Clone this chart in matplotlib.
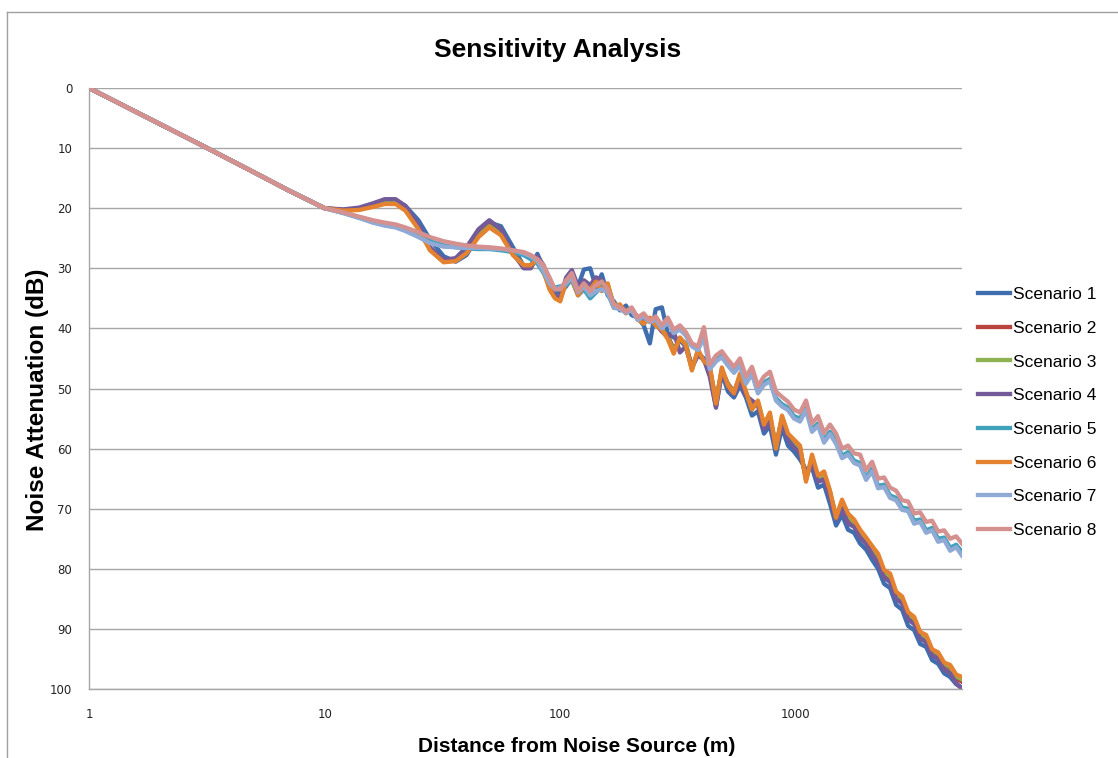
import matplotlib
matplotlib.use('Agg')
import matplotlib.pyplot as plt
from matplotlib.lines import Line2D
from matplotlib.ticker import FixedLocator, NullLocator, FuncFormatter

# - Distances (m), near field then far field
d_near = [1, 2, 3, 5, 7, 10, 12, 14, 16, 18, 20, 22, 25, 28, 32, 36, 40, 45, 50,
          56, 63, 70, 75, 80, 85, 90, 95]
d_far = [100, 106, 112, 119, 126, 134, 142, 150, 159, 169, 179, 190, 201, 213, 226,
         240, 254, 270, 286, 303, 322, 341, 362, 384, 407, 431, 458, 485, 515, 546,
         579, 614, 651, 690, 732, 776, 823, 873, 926, 982, 1041, 1104, 1171, 1242,
         1317, 1396, 1481, 1570, 1665, 1766, 1873, 1986, 2106, 2233, 2368, 2511,
         2663, 2824, 2995, 3176, 3368, 3571, 3787, 4016, 4259, 4516, 4789, 5070]
distance = d_near + d_far

# - Noise attenuation (dB) per scenario
scenario_1 = [0, 6.0, 9.5, 14.0, 17.0, 20.0, 20.3, 20.1, 19.5, 18.9, 18.8, 19.6, 22.0, 25.2,
              28.0, 28.9, 27.8, 24.5, 22.4, 23.0, 26.5, 29.6, 29.5, 27.6, 30.0, 32.6, 34.0,
              34.0, 33.0, 31.5, 33.0, 30.2, 30.0, 33.2, 31.0, 34.5, 35.5,
              37.0, 36.2, 37.8, 38.2, 39.5, 42.5, 36.8, 36.5, 40.8, 41.5,
              42.0, 43.0, 46.5, 44.2, 45.0, 47.2, 53.0, 47.5, 50.5, 51.5,
              49.5, 51.5, 54.5, 53.8, 57.5, 56.2, 61.0, 56.5, 59.5, 60.5,
              61.8, 63.5, 63.2, 66.5, 66.0, 69.2, 72.8, 71.0, 73.5, 74.0,
              75.8, 76.8, 78.5, 80.0, 82.5, 83.2, 86.0, 86.8, 89.5, 90.2,
              92.5, 93.0, 95.2, 95.8, 97.4, 98.0, 99.2, 99.8]
scenario_2 = [0, 6.0, 9.5, 14.0, 17.0, 20.0, 20.4, 20.2, 19.6, 19.0, 19.0, 20.1, 23.2, 26.8,
              28.8, 28.6, 27.2, 24.4, 22.8, 24.2, 27.6, 29.6, 29.6, 28.4, 30.2, 33.2, 34.8,
              35.0, 32.2, 31.2, 34.0, 33.2, 33.0, 32.5, 33.2, 33.0, 36.2,
              36.4, 37.0, 37.2, 38.0, 39.0, 38.5, 39.2, 40.5, 41.2, 43.5,
              41.8, 42.5, 46.5, 44.0, 45.2, 46.8, 52.0, 47.0, 49.2, 50.5,
              48.2, 50.8, 53.2, 52.5, 56.2, 54.8, 59.5, 55.0, 58.0, 59.0,
              60.0, 65.0, 61.8, 65.0, 64.5, 67.5, 71.2, 69.0, 71.5, 72.5,
              74.0, 75.2, 76.8, 78.2, 80.8, 81.5, 84.4, 85.2, 87.8, 88.6,
              91.0, 91.6, 93.8, 94.4, 96.0, 96.6, 98.2, 98.8]
scenario_3 = [0, 6.0, 9.5, 14.0, 17.0, 20.0, 20.4, 20.2, 19.7, 19.1, 19.1, 20.2, 23.3, 26.9,
              28.9, 28.7, 27.3, 24.6, 23.0, 24.3, 27.7, 29.5, 29.5, 28.5, 30.3, 33.3, 34.9,
              35.2, 32.4, 31.0, 34.2, 33.0, 33.2, 32.0, 33.5, 32.8, 36.0,
              36.2, 37.2, 37.0, 38.2, 39.2, 38.4, 39.4, 40.2, 41.5, 43.8,
              41.6, 42.6, 46.8, 43.8, 45.4, 46.5, 52.2, 46.8, 49.4, 50.6,
              48.0, 50.6, 53.4, 52.2, 56.0, 54.5, 59.8, 54.8, 57.8, 58.8,
              59.8, 65.2, 61.4, 64.8, 64.2, 67.2, 71.4, 68.8, 71.2, 72.2,
              73.8, 75.0, 76.5, 77.9, 80.5, 81.2, 84.1, 84.9, 87.5, 88.3,
              90.8, 91.3, 93.6, 94.1, 95.8, 96.3, 97.9, 98.4]
scenario_4 = [0, 6.0, 9.5, 14.0, 17.0, 20.0, 20.2, 19.9, 19.2, 18.5, 18.5, 19.6, 22.8, 26.5,
              28.6, 28.3, 26.5, 23.5, 22.0, 23.5, 27.5, 30.0, 30.0, 28.0, 29.5, 32.5, 34.5,
              34.8, 31.5, 30.3, 33.0, 32.0, 32.8, 31.5, 32.0, 33.5, 36.0,
              36.5, 37.2, 37.0, 38.2, 39.0, 38.5, 39.0, 40.5, 41.5, 40.5,
              44.0, 43.0, 46.5, 44.5, 45.2, 48.0, 53.2, 47.0, 49.8, 51.0,
              48.8, 51.2, 52.0, 52.8, 56.8, 55.5, 59.8, 55.8, 58.5, 59.8,
              60.8, 64.5, 62.5, 65.5, 65.2, 68.2, 71.8, 70.0, 72.5, 73.0,
              74.8, 75.8, 77.6, 79.0, 81.5, 82.2, 85.0, 85.8, 88.4, 89.2,
              91.6, 92.2, 94.4, 95.0, 96.8, 97.4, 99.0, 100.0]
scenario_5 = [0, 6.0, 9.5, 14.0, 17.0, 20.0, 20.8, 21.6, 22.3, 22.8, 23.1, 23.6, 24.5, 25.5,
              26.2, 26.5, 26.7, 26.8, 26.8, 27.0, 27.3, 27.8, 28.5, 29.2, 30.8, 32.8, 33.2,
              33.0, 32.8, 32.0, 34.5, 33.5, 35.0, 34.0, 33.0, 34.2, 36.6,
              36.6, 37.2, 36.8, 38.4, 37.8, 38.8, 38.3, 39.8, 38.8, 40.6,
              40.0, 41.0, 42.8, 43.4, 41.0, 46.5, 45.2, 44.5, 45.8, 47.0,
              45.8, 48.8, 47.2, 50.4, 49.0, 48.4, 51.6, 52.6, 53.2, 54.6,
              55.0, 53.2, 56.8, 55.8, 58.6, 57.2, 58.8, 61.2, 60.6, 62.0,
              62.4, 64.8, 63.4, 66.2, 66.0, 67.8, 68.2, 69.8, 70.0, 72.0,
              71.8, 73.6, 73.2, 75.0, 74.8, 76.5, 76.0, 77.2]
scenario_6 = [0, 6.0, 9.5, 14.0, 17.0, 20.0, 20.4, 20.3, 19.8, 19.3, 19.3, 20.4, 23.5, 27.0,
              29.0, 28.8, 27.5, 24.8, 23.2, 24.5, 27.8, 29.5, 29.5, 28.5, 30.5, 33.5, 35.0,
              35.5, 32.0, 31.8, 34.5, 33.0, 33.5, 32.2, 33.8, 32.5, 36.5,
              36.0, 37.5, 36.8, 38.5, 39.2, 38.2, 39.5, 40.2, 41.8, 44.2,
              41.5, 42.8, 47.0, 43.5, 45.5, 46.2, 52.5, 46.5, 49.5, 50.8,
              47.5, 50.5, 53.5, 52.0, 56.0, 54.0, 60.0, 54.5, 57.5, 58.5,
              59.5, 65.5, 61.0, 64.5, 63.8, 67.0, 71.5, 68.5, 70.8, 71.8,
              73.5, 74.8, 76.2, 77.5, 80.2, 80.8, 83.8, 84.6, 87.2, 88.0,
              90.5, 91.0, 93.4, 93.9, 95.6, 96.0, 97.6, 98.0]
scenario_7 = [0, 6.0, 9.5, 14.0, 17.0, 20.0, 20.8, 21.6, 22.4, 22.9, 23.2, 23.8, 24.8, 25.8,
              26.4, 26.5, 26.6, 26.6, 26.7, 26.8, 27.0, 27.5, 28.0, 28.8, 30.5, 32.5, 33.5,
              33.2, 32.5, 31.5, 34.0, 33.0, 34.5, 33.8, 33.5, 34.0, 36.5,
              36.8, 37.4, 37.0, 38.6, 38.0, 39.0, 38.5, 40.0, 39.0, 40.8,
              40.2, 41.2, 43.0, 43.6, 41.5, 46.8, 45.5, 44.8, 46.2, 47.4,
              46.2, 49.2, 47.6, 50.8, 49.4, 48.8, 52.0, 53.0, 53.6, 55.0,
              55.5, 53.6, 57.2, 56.2, 59.0, 57.6, 59.2, 61.6, 61.0, 62.4,
              62.8, 65.2, 63.8, 66.6, 66.4, 68.2, 68.6, 70.2, 70.4, 72.5,
              72.2, 74.0, 73.6, 75.5, 75.2, 77.0, 76.4, 77.8]
scenario_8 = [0, 6.0, 9.5, 14.0, 17.0, 20.0, 20.7, 21.4, 22.0, 22.4, 22.7, 23.2, 24.0, 24.8,
              25.5, 25.9, 26.2, 26.4, 26.5, 26.7, 27.0, 27.3, 27.8, 28.5, 29.5, 31.5, 33.5,
              33.5, 32.0, 30.8, 33.8, 32.5, 33.8, 32.8, 32.2, 33.5, 36.0,
              36.5, 37.2, 36.5, 38.2, 37.5, 38.8, 38.0, 39.5, 38.2, 40.2,
              39.5, 40.6, 42.5, 43.0, 39.8, 46.0, 44.5, 43.8, 45.2, 46.4,
              45.0, 48.0, 46.4, 49.6, 48.0, 47.2, 50.5, 51.4, 52.2, 53.5,
              54.0, 52.0, 55.8, 54.6, 57.4, 56.0, 57.5, 60.0, 59.5, 60.8,
              61.0, 63.6, 62.2, 65.0, 64.8, 66.5, 67.0, 68.6, 68.8, 70.8,
              70.6, 72.2, 72.0, 73.8, 73.6, 75.0, 74.6, 75.8]

series = [scenario_1, scenario_2, scenario_3, scenario_4,
          scenario_5, scenario_6, scenario_7, scenario_8]
labels = ['Scenario 1', 'Scenario 2', 'Scenario 3', 'Scenario 4',
          'Scenario 5', 'Scenario 6', 'Scenario 7', 'Scenario 8']
colors = ['#3F6EAE', '#B9433F', '#8FB14F', '#735A99',
          '#40A1BB', '#E4822F', '#8FAAD5', '#D4918F']

plt.rcParams['font.family'] = ['Liberation Sans', 'DejaVu Sans']

# - Figure and axes placed like the original plot area
fig = plt.figure(figsize=(11.18, 7.58), dpi=100)
ax = fig.add_axes([89 / 1118, 1 - 689 / 758, (962 - 89) / 1118, (689 - 88) / 758])

for vals, lab, col in zip(series, labels, colors):
    ax.plot(distance, vals, color=col, lw=3.1, label=lab, solid_joinstyle='round')

# -- Axes scales
ax.set_xscale('log')
ax.set_xlim(1, 5070)
ax.set_ylim(100, 0)
ax.xaxis.set_major_locator(FixedLocator([1, 10, 100, 1000]))
ax.xaxis.set_minor_locator(NullLocator())
ax.xaxis.set_major_formatter(FuncFormatter(lambda x, pos: '%d' % x))
ax.set_yticks(range(0, 101, 10))

# -- Grid and borders
ax.grid(axis='y', color='#A6A6A6', lw=1.0)
ax.set_axisbelow(True)
for side in ('top', 'right'):
    ax.spines[side].set_visible(False)
for side in ('left', 'bottom'):
    ax.spines[side].set_color('#A6A6A6')
    ax.spines[side].set_linewidth(1.0)
ax.tick_params(axis='both', length=0, labelsize=8.5, labelcolor='#222222')
ax.tick_params(axis='y', pad=12)
ax.tick_params(axis='x', pad=14)
for lbl in ax.get_xticklabels() + ax.get_yticklabels():
    lbl.set_fontfamily('DejaVu Sans')

# -- Texts
fig.text(558 / 1118, 1 - 50 / 758, 'Sensitivity Analysis', ha='center', va='center',
         fontsize=19, fontweight='bold')
fig.text(577 / 1118, 1 - 746 / 758, 'Distance from Noise Source (m)', ha='center',
         va='center', fontsize=15, fontweight='bold')
fig.text(38 / 1118, 1 - 400 / 758, 'Noise Attenuation (dB)', ha='center', va='center',
         rotation=90, fontsize=17.5, fontweight='bold')

# -- Legend
ax.legend(loc='center left', bbox_to_anchor=(1.010, 0.46), frameon=False, fontsize=12.5,
          handlelength=1.85, handletextpad=0.2, labelspacing=1.07, borderaxespad=0)

# -- Chart area border
fig.add_artist(Line2D([7 / 1118, 7 / 1118], [0, 1 - 12 / 758], color='#A0A0A0', lw=1,
                      transform=fig.transFigure))
fig.add_artist(Line2D([7 / 1118, 1], [1 - 12 / 758, 1 - 12 / 758], color='#A0A0A0', lw=1,
                      transform=fig.transFigure))

fig.savefig('out.png', dpi=100)
